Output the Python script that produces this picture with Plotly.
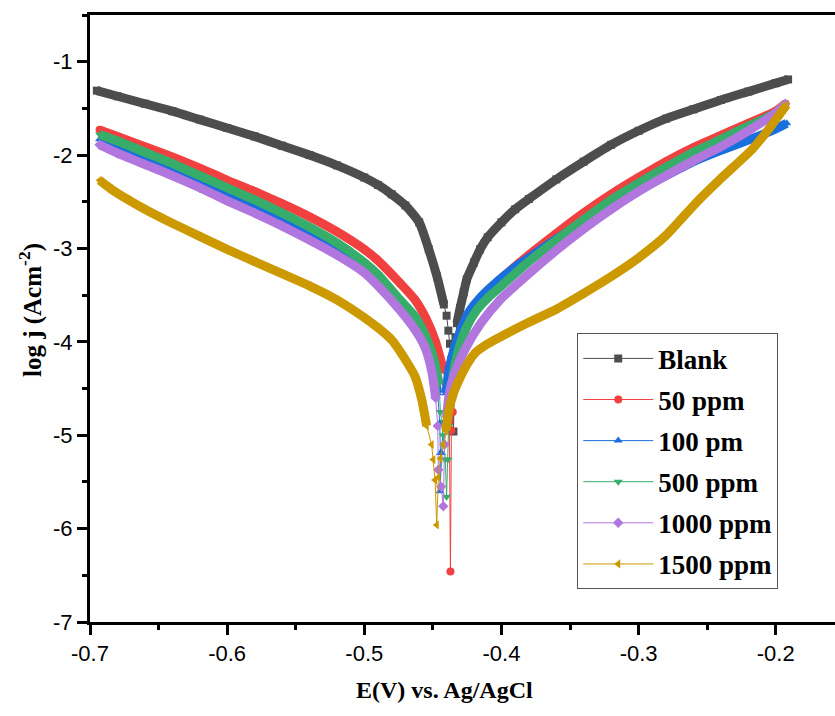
import plotly.graph_objects as go

# ---- Tafel polarisation data: E (V vs Ag/AgCl) and log j (A cm^-2) ----
# Each series: cathodic branch, points around E_corr, anodic branch.

blank_E_cat = [-0.695, -0.68, -0.66, -0.64, -0.62, -0.60, -0.58, -0.56, -0.54, -0.52,
               -0.50, -0.49, -0.48, -0.47, -0.46, -0.453, -0.447, -0.442]
blank_J_cat = [-1.31, -1.37, -1.45, -1.53, -1.62, -1.71, -1.80, -1.90, -2.00, -2.11,
               -2.24, -2.32, -2.42, -2.54, -2.72, -3.01, -3.30, -3.60]
blank_E_tip = [-0.4400, -0.4387, -0.4375, -0.4365, -0.4350, -0.4340, -0.4335]
blank_J_tip = [-3.72, -3.88, -4.02, -4.20, -4.96, -4.20, -3.95]
blank_E_an = [-0.4324, -0.4302, -0.4275, -0.4253, -0.42, -0.4156, -0.41, -0.40, -0.39, -0.38,
              -0.36, -0.34, -0.32, -0.30, -0.28, -0.26, -0.24, -0.22, -0.20, -0.191]
blank_J_an = [-3.80, -3.64, -3.47, -3.33, -3.15, -3.01, -2.88, -2.72, -2.58, -2.47,
              -2.26, -2.07, -1.89, -1.74, -1.61, -1.51, -1.41, -1.32, -1.23, -1.19]

p50_E_cat = [-0.693, -0.68, -0.66, -0.64, -0.62, -0.609, -0.60, -0.58, -0.56, -0.54,
             -0.52, -0.50, -0.49, -0.474, -0.463, -0.455, -0.448, -0.4424]
p50_J_cat = [-1.73, -1.80, -1.91, -2.02, -2.14, -2.21, -2.27, -2.39, -2.52, -2.66,
             -2.82, -3.01, -3.13, -3.37, -3.55, -3.75, -4.00, -4.30]
p50_E_tip = [-0.4405, -0.4390, -0.4380, -0.4372, -0.4365, -0.4355, -0.4345]
p50_J_tip = [-4.45, -4.65, -4.85, -6.46, -4.95, -4.75, -4.50]
p50_E_an = [-0.433, -0.431, -0.428, -0.424, -0.418, -0.41, -0.40, -0.38, -0.36, -0.34,
            -0.32, -0.30, -0.28, -0.26, -0.24, -0.22, -0.20, -0.193]
p50_J_an = [-4.30, -4.12, -3.95, -3.78, -3.60, -3.46, -3.32, -3.07, -2.84, -2.62,
            -2.42, -2.24, -2.07, -1.92, -1.79, -1.66, -1.53, -1.45]

p100_E_cat = [-0.693, -0.68, -0.66, -0.64, -0.62, -0.609, -0.58, -0.56, -0.54, -0.52,
              -0.50, -0.49, -0.474, -0.463, -0.455, -0.45, -0.4465]
p100_J_cat = [-1.83, -1.92, -2.04, -2.17, -2.31, -2.38, -2.56, -2.70, -2.85, -3.01,
              -3.21, -3.33, -3.62, -3.80, -4.00, -4.25, -4.55]
p100_E_tip = [-0.4450, -0.4445, -0.4448, -0.4436, -0.4425]
p100_J_tip = [-4.87, -5.19, -5.60, -5.19, -4.87]
p100_E_an = [-0.4405, -0.438, -0.434, -0.429, -0.4241, -0.415, -0.401, -0.39, -0.38, -0.36,
             -0.34, -0.32, -0.30, -0.28, -0.26, -0.24, -0.22, -0.20, -0.192]
p100_J_an = [-4.55, -4.28, -4.05, -3.85, -3.69, -3.52, -3.33, -3.20, -3.10, -2.90,
             -2.72, -2.55, -2.38, -2.22, -2.07, -1.95, -1.84, -1.72, -1.66]

p500_E_cat = [-0.693, -0.68, -0.66, -0.64, -0.62, -0.60, -0.58, -0.56, -0.54, -0.52,
              -0.50, -0.49, -0.474, -0.463, -0.455, -0.449, -0.4455]
p500_J_cat = [-1.78, -1.85, -1.97, -2.09, -2.22, -2.35, -2.48, -2.62, -2.77, -2.94,
              -3.15, -3.28, -3.55, -3.73, -3.95, -4.20, -4.45]
p500_E_tip = [-0.4445, -0.4425, -0.4410, -0.4400, -0.4390, -0.4385]
p500_J_tip = [-4.75, -5.00, -5.26, -5.66, -5.26, -4.90]
p500_E_an = [-0.437, -0.434, -0.43, -0.425, -0.418, -0.41, -0.40, -0.38, -0.36, -0.34,
             -0.32, -0.30, -0.28, -0.26, -0.24, -0.22, -0.20, -0.193]
p500_J_an = [-4.55, -4.25, -4.02, -3.83, -3.66, -3.53, -3.40, -3.14, -2.91, -2.69,
             -2.48, -2.30, -2.13, -1.97, -1.83, -1.69, -1.55, -1.46]

p1000_E_cat = [-0.693, -0.68, -0.66, -0.64, -0.62, -0.60, -0.58, -0.56, -0.54, -0.52,
               -0.50, -0.49, -0.474, -0.463, -0.456, -0.451, -0.448]
p1000_J_cat = [-1.89, -1.98, -2.10, -2.22, -2.35, -2.49, -2.62, -2.76, -2.91, -3.07,
               -3.26, -3.40, -3.66, -3.87, -4.05, -4.30, -4.60]
p1000_E_tip = [-0.4465, -0.4460, -0.4440, -0.4424, -0.4415]
p1000_J_tip = [-4.90, -5.37, -5.55, -5.76, -5.10]
p1000_E_an = [-0.4400, -0.438, -0.434, -0.4266, -0.415, -0.401, -0.38, -0.36, -0.34, -0.32,
              -0.30, -0.28, -0.26, -0.24, -0.22, -0.20, -0.193]
p1000_J_an = [-4.80, -4.55, -4.33, -4.08, -3.80, -3.55, -3.27, -3.02, -2.79, -2.58,
              -2.39, -2.22, -2.06, -1.91, -1.74, -1.55, -1.45]

p1500_E_cat = [-0.693, -0.685, -0.672, -0.66, -0.64, -0.62, -0.60, -0.58, -0.56, -0.54,
               -0.52, -0.50, -0.49, -0.48, -0.474, -0.468, -0.463, -0.4581, -0.4545]
p1500_J_cat = [-2.27, -2.36, -2.48, -2.58, -2.73, -2.87, -3.01, -3.14, -3.27, -3.40,
               -3.55, -3.74, -3.85, -3.98, -4.10, -4.24, -4.37, -4.62, -4.90]
p1500_E_tip = [-0.4509, -0.4497, -0.4484, -0.4472, -0.4460, -0.4445, -0.4424]
p1500_J_tip = [-5.10, -5.26, -5.48, -5.96, -5.45, -5.25, -5.10]
p1500_E_an = [-0.4405, -0.4387, -0.435, -0.43, -0.425, -0.4193, -0.41, -0.40, -0.38, -0.36,
              -0.34, -0.32, -0.30, -0.28, -0.2574, -0.24, -0.2173, -0.205, -0.192]
p1500_J_an = [-4.95, -4.76, -4.55, -4.38, -4.24, -4.12, -4.02, -3.94, -3.79, -3.65,
              -3.48, -3.30, -3.10, -2.86, -2.50, -2.25, -1.94, -1.72, -1.46]

series_names = ["Blank", "50 ppm", "100 pm", "500 ppm", "1000 ppm", "1500 ppm"]
series_colors = ["#4d4d4d", "#F14040", "#1A6FDF", "#37AD6B", "#B177DE", "#CC9900"]
series_symbols = ["square", "circle", "triangle-up", "triangle-down", "diamond", "triangle-left"]

x_tick_vals = [-0.7, -0.6, -0.5, -0.4, -0.3, -0.2]
x_tick_text = ["-0.7", "-0.6", "-0.5", "-0.4", "-0.3", "-0.2"]
y_tick_vals = [-7, -6, -5, -4, -3, -2, -1]
y_tick_text = ["-7", "-6", "-5", "-4", "-3", "-2", "-1"]

branches = [
    (blank_E_cat, blank_J_cat, blank_E_tip, blank_J_tip, blank_E_an, blank_J_an),
    (p50_E_cat, p50_J_cat, p50_E_tip, p50_J_tip, p50_E_an, p50_J_an),
    (p100_E_cat, p100_J_cat, p100_E_tip, p100_J_tip, p100_E_an, p100_J_an),
    (p500_E_cat, p500_J_cat, p500_E_tip, p500_J_tip, p500_E_an, p500_J_an),
    (p1000_E_cat, p1000_J_cat, p1000_E_tip, p1000_J_tip, p1000_E_an, p1000_J_an),
    (p1500_E_cat, p1500_J_cat, p1500_E_tip, p1500_J_tip, p1500_E_an, p1500_J_an),
]

SERIF = "Liberation Serif, Times New Roman, serif"
SANS = "Liberation Sans, Arial, sans-serif"

fig = go.Figure()
for name, color, symbol, (ec, jc, et, jt, ea, ja) in zip(series_names, series_colors,
                                                          series_symbols, branches):
    # dense part of each branch drawn as a thick smoothed band
    fig.add_trace(go.Scatter(
        x=ec + [None] + ea, y=jc + [None] + ja,
        mode="lines", line=dict(color=color, width=9, shape="spline", smoothing=0.6),
        legendgroup=name, showlegend=False, hoverinfo="skip"))
    # all points with symbols, thin connecting line
    fig.add_trace(go.Scatter(
        x=ec + et + ea, y=jc + jt + ja,
        mode="lines+markers", name=name, legendgroup=name,
        line=dict(color=color, width=1),
        marker=dict(symbol=symbol, size=8, color=color, line=dict(width=0))))

axis_common = dict(
    showline=True, linewidth=3, linecolor="black",
    ticks="outside", ticklen=10, tickwidth=3, tickcolor="black",
    showgrid=False, zeroline=False,
    tickfont=dict(family=SANS, size=22, color="black"),
)

fig.update_layout(
    width=835, height=716,
    margin=dict(l=90, r=0, t=15, b=94),
    paper_bgcolor="white", plot_bgcolor="white",
    xaxis=dict(range=[-0.7, -0.1568], tickmode="array", tickvals=x_tick_vals,
               ticktext=x_tick_text, mirror=True,
               minor=dict(tickmode="array",
                          tickvals=[v + 0.05 for v in x_tick_vals],
                          ticks="outside", ticklen=5, tickwidth=3, tickcolor="black"),
               **axis_common),
    yaxis=dict(range=[-7, -0.5], tickmode="array", tickvals=y_tick_vals,
               ticktext=y_tick_text, mirror=False,
               minor=dict(tickmode="array",
                          tickvals=[v + 0.5 for v in y_tick_vals],
                          ticks="outside", ticklen=5, tickwidth=3, tickcolor="black"),
               **axis_common),
    legend=dict(
        x=0.654, y=0.4755, xanchor="left", yanchor="top",
        bgcolor="white", bordercolor="#555555", borderwidth=1,
        font=dict(family=SERIF, size=27, color="black", weight="bold"),
        traceorder="grouped", tracegroupgap=3, itemwidth=70,
    ),
    showlegend=True,
    annotations=[
        dict(text="E(V) vs. Ag/AgCl", xref="paper", yref="paper",
             x=0.4765, y=-0.112, xanchor="center", yanchor="middle", showarrow=False,
             font=dict(family=SERIF, size=24, color="black", weight="bold")),
        dict(text="log j (Acm<sup>-2</sup>)", xref="paper", yref="paper",
             x=-0.0805, y=0.514, xanchor="center", yanchor="middle", showarrow=False,
             textangle=-90,
             font=dict(family=SERIF, size=25, color="black", weight="bold")),
    ],
)

fig.write_html("out.html")
